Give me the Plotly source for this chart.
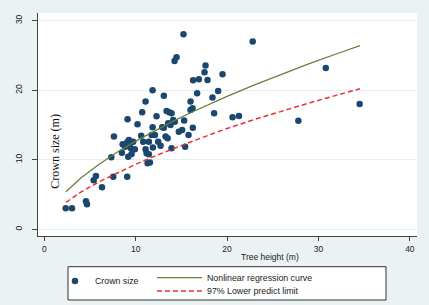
import plotly.graph_objects as go

# Scatter data: tree height (m) vs crown size (m)
height = [2.34, 3.03, 4.56, 4.67, 5.40, 5.65, 6.31, 7.33, 7.62, 7.54, 9.07, 8.57, 8.49, 8.82,
          9.11, 9.07, 9.26, 9.37, 9.44, 9.18, 9.55, 9.73, 9.91, 10.20, 10.60, 10.71, 10.82,
          11.08, 11.08, 11.19, 11.30, 11.44, 11.55, 11.44, 11.74, 11.85, 11.85, 11.88, 12.10,
          12.28, 12.46, 12.72, 12.90, 13.08, 13.08, 13.27, 13.38, 13.49, 13.55, 13.66, 13.81,
          13.92, 13.92, 14.10, 14.25, 14.47, 14.28, 14.72, 15.08, 15.23, 15.30, 15.41, 15.78,
          16.00, 16.00, 16.22, 16.28, 16.25, 16.72, 16.91, 17.53, 17.64, 17.86, 18.40, 18.58,
          19.02, 19.50, 20.60, 21.30, 22.80, 27.80, 30.80, 34.50]
crown = [3.02, 3.02, 4.03, 3.60, 7.05, 7.67, 6.04, 10.36, 13.33, 7.57, 7.57, 12.23, 11.02, 11.88,
         15.83, 12.52, 12.85, 12.27, 11.70, 10.45, 10.83, 12.60, 11.50, 15.10, 13.47, 16.83, 12.60,
         18.36, 11.50, 10.93, 9.50, 10.79, 9.59, 12.60, 13.57, 20.00, 14.67, 11.75, 13.57,
         16.25, 12.60, 12.03, 14.67, 19.20, 14.62, 13.33, 17.02, 13.09, 15.25, 16.83, 15.00,
         16.69, 11.65, 15.73, 24.20, 24.75, 15.48, 14.04, 14.29, 28.06, 15.63, 11.88, 13.57,
         18.36, 17.17, 17.41, 21.44, 14.62, 19.57, 21.58, 22.59, 23.54, 21.48, 18.94, 16.69,
         19.90, 22.30, 16.10, 16.30, 27.00, 15.60, 23.20, 18.00]

# Curves
curve_x = [2.37, 4, 6, 8, 10, 12, 14, 16, 18, 20, 23, 26, 29, 32, 34.54]
fit_y = [5.41, 7.38, 9.37, 11.11, 12.68, 14.13, 15.48, 16.75, 17.96, 19.11, 20.77, 22.33, 23.82, 25.25, 26.40]
lower_y = [3.88, 5.35, 6.84, 8.15, 9.35, 10.48, 11.55, 12.56, 13.54, 14.50, 15.80, 17.02, 18.17, 19.29, 20.20]

x_ticks = [0, 10, 20, 30, 40]
y_ticks = [0, 10, 20, 30]

FONT = "Liberation Sans"
TXT = "#222222"

# plot area in pixels: x 38..417, y 13..236
def px_x(p):
    return (p - 38) / 379.0

def px_y(p):
    return (236 - p) / 223.0

fig = go.Figure()
fig.add_trace(go.Scatter(x=height, y=crown, mode="markers", name="Crown size",
                         legend="legend",
                         marker=dict(color="#1A476F", size=6.5, line=dict(width=0))))
fig.add_trace(go.Scatter(x=curve_x, y=fit_y, mode="lines", name="Nonlinear regression curve",
                         legend="legend2", line=dict(color="#6B7D3A", width=1.2)))
fig.add_trace(go.Scatter(x=curve_x, y=lower_y, mode="lines", name="97% Lower predict limit",
                         legend="legend3", line=dict(color="#EE3030", width=1.5, dash="5px,3px")))

leg_common = dict(bgcolor="rgba(0,0,0,0)", borderwidth=0, xanchor="left", yanchor="middle",
                  font=dict(family=FONT, size=8.8, color=TXT))

fig.update_layout(
    width=429, height=305,
    margin=dict(l=38, r=12, t=13, b=69, autoexpand=False),
    paper_bgcolor="#EAF2F3",
    plot_bgcolor="white",
    font=dict(family=FONT, size=8.5, color=TXT),
    showlegend=True,
    legend=dict(x=px_x(55), y=px_y(281), itemwidth=30, **leg_common),
    legend2=dict(x=px_x(152), y=px_y(277.7), itemwidth=45, **leg_common),
    legend3=dict(x=px_x(152), y=px_y(291), itemwidth=45, **leg_common),
    xaxis=dict(range=[-0.69, 40.78], tickvals=x_ticks, ticktext=[str(v) for v in x_ticks],
               showgrid=False, zeroline=False, showline=True, linecolor="#444444", linewidth=1,
               ticks="outside", ticklen=4, tickcolor="#444444", ticklabelstandoff=1,
               tickfont=dict(family=FONT, size=8.5, color=TXT)),
    yaxis=dict(range=[-0.96, 31.1], tickvals=y_ticks, ticktext=[str(v) for v in y_ticks],
               showgrid=True, gridcolor="#E6EEF0", gridwidth=1, zeroline=False,
               showline=True, linecolor="#444444", linewidth=1,
               ticks="outside", ticklen=5, tickcolor="#444444", tickangle=-90,
               ticklabelstandoff=7,
               tickfont=dict(family=FONT, size=8.5, color=TXT)),
    shapes=[
        dict(type="rect", xref="paper", yref="paper",
             x0=px_x(68), x1=px_x(386), y0=px_y(300), y1=px_y(266.7),
             fillcolor="white", line=dict(color="#333333", width=1), layer="below"),
    ],
    annotations=[
        dict(text="Tree height (m)", xref="paper", yref="paper", x=px_x(270), y=px_y(257),
             xanchor="center", yanchor="middle", showarrow=False,
             font=dict(family=FONT, size=8.5, color=TXT)),
        dict(text="Crown size (m)", xref="paper", yref="paper", x=px_x(55), y=px_y(151.7),
             xanchor="center", yanchor="middle", showarrow=False, textangle=-90,
             font=dict(family="Liberation Serif", size=12, color="#111111")),
    ],
)

fig.write_html("out.html")
